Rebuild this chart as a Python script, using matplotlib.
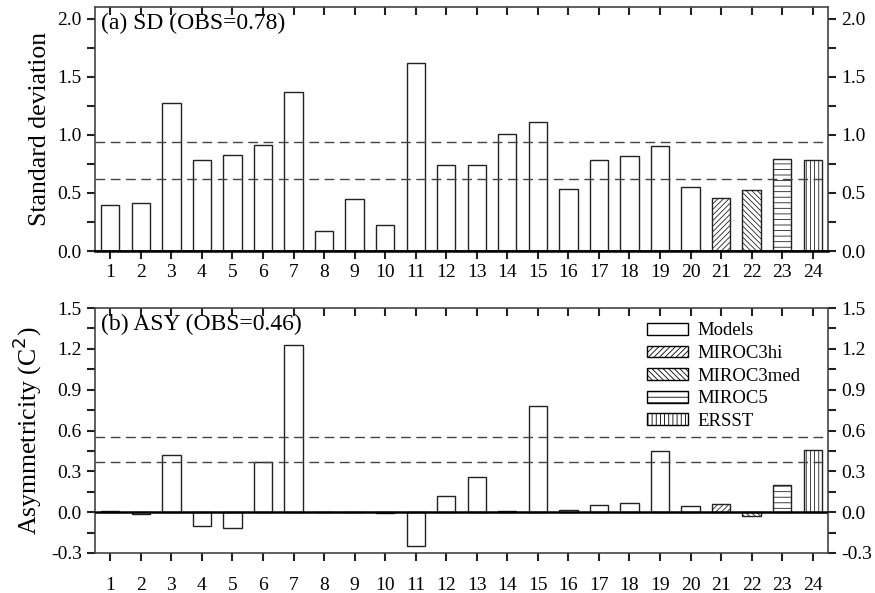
"""
SD and asymmetricity bar panels for 20 models, MIROC runs and ERSST
"""
import matplotlib
matplotlib.use('Agg')
import matplotlib.pyplot as plt
from matplotlib.ticker import MultipleLocator, FormatStrFormatter
from matplotlib.patches import Patch

plt.rcParams['font.family'] = ['Liberation Serif', 'DejaVu Serif']
plt.rcParams['axes.unicode_minus'] = False
plt.rcParams['hatch.linewidth'] = 0.6

# data
labels = [str(i) for i in range(1, 25)]
sd_vals = [0.40, 0.41, 1.27, 0.78, 0.83, 0.91, 1.37, 0.17, 0.45, 0.22, 1.62, 0.74,
           0.74, 1.01, 1.11, 0.53, 0.78, 0.82, 0.90, 0.555, 0.46, 0.525, 0.79, 0.78]
asy_vals = [0.01, -0.01, 0.42, -0.10, -0.115, 0.37, 1.23, 0.0, 0.0, -0.005, -0.25, 0.12,
            0.26, 0.01, 0.78, 0.015, 0.055, 0.065, 0.45, 0.045, 0.06, -0.03, 0.20, 0.46]
sd_lines = [0.935, 0.62]
asy_lines = [0.555, 0.365]
legend_names = ['Models', 'MIROC3hi', 'MIROC3med', 'MIROC5', 'ERSST']
hatches = [''] * 20 + ['//////', '\\\\\\\\\\\\', '---', '||||']

x = list(range(1, 25))
fig = plt.figure(figsize=(8.75, 5.93), dpi=100)
ax1 = fig.add_axes([0.1086, 0.5767, 0.8377, 0.4115])
ax2 = fig.add_axes([0.1086, 0.0675, 0.8377, 0.4130])


def draw_panel(ax, vals, lines, ylim, major, minor, title, ylabel, xpad):
    for xi, v, h in zip(x, vals, hatches):
        ax.bar(xi, v, width=0.6, facecolor='white', edgecolor='#222222',
               linewidth=1.0, hatch=h, zorder=2)
    for y in lines:
        ax.axhline(y, color='#444444', linestyle=(0, (7, 4)), linewidth=1.0, zorder=3)
    ax.axhline(0, color='black', linewidth=1.8, zorder=4)
    ax.set_xlim(0.5, 24.5)
    ax.set_ylim(*ylim)
    ax.set_xticks(x)
    ax.set_xticklabels(labels)
    ax.yaxis.set_major_locator(MultipleLocator(major))
    ax.yaxis.set_minor_locator(MultipleLocator(minor))
    ax.yaxis.set_major_formatter(FormatStrFormatter('%.1f'))
    ax.tick_params(axis='x', direction='out', length=6, width=1.5, labelsize=14,
                   color='#222222', pad=xpad)
    ax.tick_params(axis='y', which='both', direction='out', length=6, width=1.5,
                   left=True, right=True, labelleft=True, labelright=True,
                   labelsize=14, color='#222222')
    sec = ax.secondary_xaxis('top')
    sec.set_xticks(x)
    sec.tick_params(direction='in', length=6, width=1.5, labeltop=False, color='#222222')
    sec.spines['top'].set_visible(False)
    for s in ax.spines.values():
        s.set_color('#444444')
        s.set_linewidth(1.2)
    ax.text(0.008, 0.975, title, transform=ax.transAxes, fontsize=17,
            ha='left', va='top')
    ax.set_ylabel(ylabel, fontsize=18.5, labelpad=5)


draw_panel(ax1, sd_vals, sd_lines, (0, 2.1), 0.5, 0.25,
           '(a) SD (OBS=0.78)', 'Standard deviation', 3)
ax1.spines['bottom'].set_color('black')
ax1.spines['bottom'].set_linewidth(1.8)

draw_panel(ax2, asy_vals, asy_lines, (-0.3, 1.5), 0.3, 0.15,
           '(b) ASY (OBS=0.46)', 'Asymmetricity (C$^2$)', 11)

handles = [Patch(facecolor='white', edgecolor='black', linewidth=1.0,
                 hatch=h) for h in ['', '//////', '\\\\\\\\\\\\', '---', '||||']]
ax2.legend(handles, legend_names, loc='upper right', bbox_to_anchor=(0.985, 1.01),
           frameon=False, fontsize=13.5, handlelength=2.2, handleheight=0.6,
           labelspacing=0.3, handletextpad=0.5)

fig.savefig('out.png', dpi=100)
plt.close(fig)
